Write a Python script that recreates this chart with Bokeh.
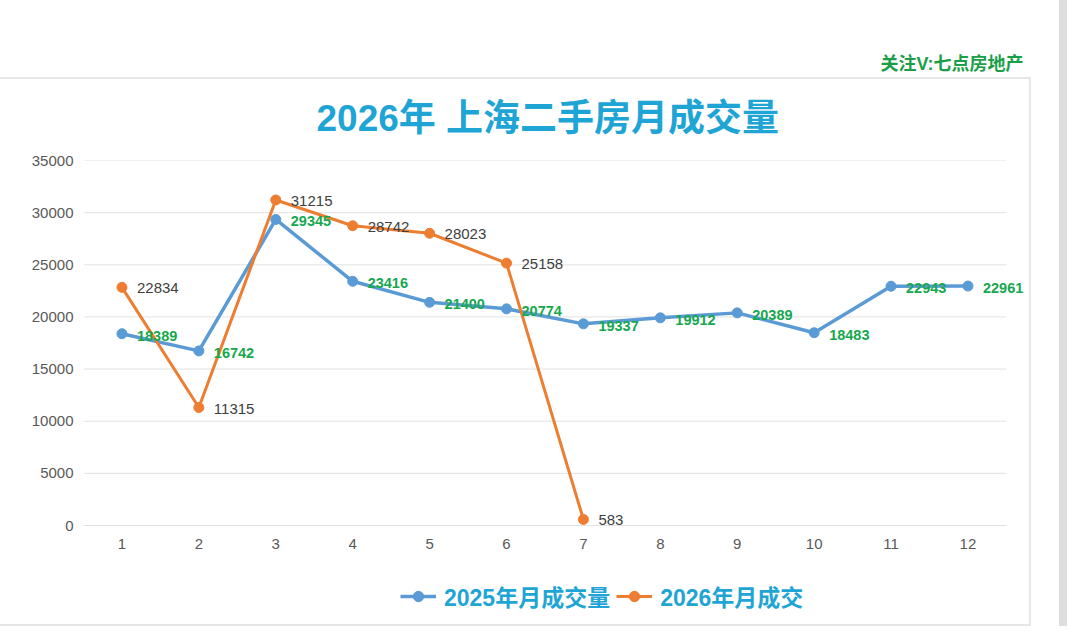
from bokeh.plotting import figure
from bokeh.models import (Range1d, ColumnDataSource, LabelSet, Legend, LegendItem,
                          FixedTicker, Title)
from bokeh.core.properties import value
from bokeh.embed import file_html
from bokeh.resources import INLINE

# ---------------- data ----------------
months = list(range(1, 13))
month_labels = [str(m) for m in months]
sales_2025 = [18389, 16742, 29345, 23416, 21400, 20774, 19337, 19912, 20389, 18483, 22943, 22961]
months_2026 = [1, 2, 3, 4, 5, 6, 7]
sales_2026 = [22834, 11315, 31215, 28742, 28023, 25158, 583]
y_ticks = [0, 5000, 10000, 15000, 20000, 25000, 30000, 35000]
chart_title = "2026年 上海二手房月成交量"
watermark = "关注V:七点房地产"
series_names = ["2025年月成交量", "2026年月成交"]

# ---------------- style ----------------
BLUE = "#5b9bd5"
ORANGE = "#ed7d31"
GREEN = "#16a84f"
CYAN = "#1fa5d5"
NUM_FONT = "Liberation Sans"
MIX_FONT = "Liberation Sans, Noto Sans CJK SC"

W, H = 1072, 626
FL, FT = 83, 160            # frame left / top (px)
FRAME_R, FRAME_B = 1028, 620
ZERO_Y = 525                # pixel row of value 0
PX_PER_MONTH = 76.91
x_start = 0.5
x_end = x_start + (FRAME_R - FL) / PX_PER_MONTH
y_top = 35000
y_start = -(FRAME_B - ZERO_Y) * y_top / (ZERO_Y - FT)

card_css = {
    "background-color": "white",
    "background-image": ("linear-gradient(#e6e6e6,#e6e6e6), linear-gradient(#e6e6e6,#e6e6e6), "
                         "linear-gradient(#e6e6e6,#e6e6e6), linear-gradient(#dedede,#dedede)"),
    "background-size": "1031px 2px, 2px 548px, 1031px 2px, 8px 626px",
    "background-position": "0px 77px, 1029px 77px, 0px 624px, 1059px 0px",
    "background-repeat": "no-repeat",
}

p = figure(width=W, height=H, output_backend="svg", toolbar_location=None, title=None,
           x_range=Range1d(x_start, x_end), y_range=Range1d(y_start, y_top),
           x_axis_location="above",
           min_border_left=FL, min_border_right=W - FRAME_R,
           min_border_top=FT, min_border_bottom=H - FRAME_B,
           background_fill_color="white", border_fill_color=None,
           styles=card_css)
p.outline_line_color = None

# x axis drawn along value 0, tick labels hanging below it
p.xaxis.fixed_location = 0
p.xaxis.ticker = FixedTicker(ticks=months)
p.xaxis.major_label_overrides = {m: l for m, l in zip(months, month_labels)}
p.yaxis.ticker = FixedTicker(ticks=y_ticks)
for ax in (p.xaxis, p.yaxis):
    ax.axis_line_color = None
    ax.major_tick_line_color = None
    ax.minor_tick_line_color = None
    ax.major_tick_out = 0
    ax.major_tick_in = 0
    ax.minor_tick_out = 0
    ax.major_label_text_color = "#595959"
    ax.major_label_text_font = NUM_FONT
    ax.major_label_text_font_size = "15px"
p.xaxis.major_label_standoff = -23
p.yaxis.major_label_standoff = 10
p.xgrid.grid_line_color = None
p.ygrid.grid_line_color = None

# titles (stacked outward from the frame after the axis)
p.add_layout(Title(text=chart_title, align="left", offset=233, standoff=44,
                   text_font=MIX_FONT, text_font_size="37px", text_font_style="bold",
                   text_color=CYAN), "above")
p.add_layout(Title(text=watermark, align="right", offset=5, standoff=0,
                   text_font=MIX_FONT, text_font_size="18px", text_font_style="bold",
                   text_color="#1a9e48"), "above")

# horizontal gridlines over the month span
p.segment(x0=[0.5] * len(y_ticks), x1=[12.5] * len(y_ticks), y0=y_ticks, y1=y_ticks,
          line_color="#e2e2e2", line_width=1, level="underlay")

# series
src25 = ColumnDataSource(dict(x=months, y=sales_2025, t=[str(v) for v in sales_2025]))
src26 = ColumnDataSource(dict(x=months_2026, y=sales_2026, t=[str(v) for v in sales_2026]))

l25 = p.line("x", "y", source=src25, line_color=BLUE, line_width=3.5)
c25 = p.scatter("x", "y", source=src25, size=10, fill_color=BLUE, line_color=BLUE)
l26 = p.line("x", "y", source=src26, line_color=ORANGE, line_width=3)
c26 = p.scatter("x", "y", source=src26, size=10, fill_color=ORANGE, line_color=ORANGE)

p.add_layout(LabelSet(x="x", y="y", text="t", source=src25, x_offset=15, y_offset=-2,
                      text_baseline="middle", text_align="left", text_font=value(NUM_FONT),
                      text_font_size="14.5px", text_font_style="bold", text_color=GREEN))
p.add_layout(LabelSet(x="x", y="y", text="t", source=src26, x_offset=15, y_offset=-1,
                      text_baseline="middle", text_align="left", text_font=value(NUM_FONT),
                      text_font_size="15px", text_color="#404040"))

# legend at the foot of the card
legend = Legend(items=[LegendItem(label=series_names[0], renderers=[l25, c25]),
                       LegendItem(label=series_names[1], renderers=[l26, c26])],
                location=(400 - FL, 7), orientation="horizontal",
                padding=0, margin=0, spacing=6, border_line_color=None,
                background_fill_alpha=0, glyph_width=36, glyph_height=26, label_height=26,
                label_standoff=8, label_text_font=MIX_FONT, label_text_font_size="23px",
                label_text_font_style="bold", label_text_color=CYAN)
p.add_layout(legend)

open("out.html", "w").write(file_html(p, INLINE))
